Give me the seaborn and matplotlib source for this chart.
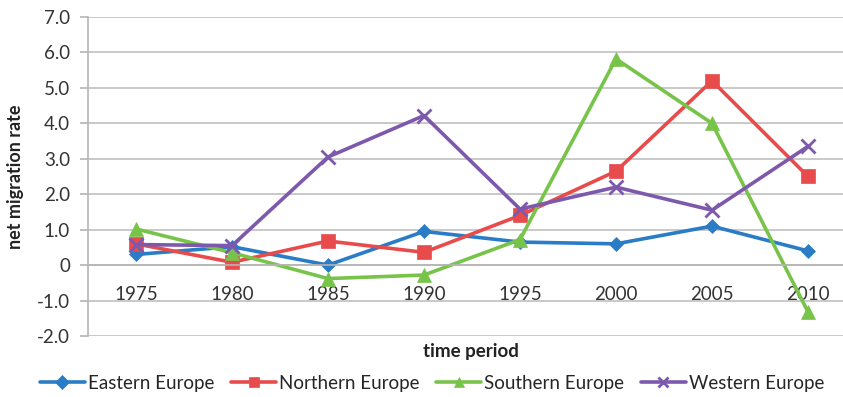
import matplotlib
matplotlib.use("Agg")
import matplotlib.pyplot as plt
import seaborn as sns
import pandas as pd
import numpy as np

periods = ["1975", "1980", "1985", "1990", "1995", "2000", "2005", "2010"]
eastern = [0.30, 0.52, 0.00, 0.95, 0.65, 0.60, 1.10, 0.40]
northern = [0.60, 0.08, 0.68, 0.36, 1.40, 2.65, 5.20, 2.50]
southern = [1.02, 0.35, -0.38, -0.28, 0.72, 5.82, 4.00, -1.32]
western = [0.58, 0.55, 3.05, 4.22, 1.58, 2.20, 1.55, 3.35]
series_names = ["Eastern Europe", "Northern Europe", "Southern Europe", "Western Europe"]
y_ticks = [-2, -1, 0, 1, 2, 3, 4, 5, 6, 7]
y_tick_labels = ["-2.0", "-1.0", "0", "1.0", "2.0", "3.0", "4.0", "5.0", "6.0", "7.0"]

sns.set_theme(style="white")
plt.rcParams['font.family'] = ['Lato', 'DejaVu Sans']

rows = []
for name, vals in zip(series_names, [eastern, northern, southern, western]):
    for i, v in enumerate(vals):
        rows.append({"pos": i, "rate": v, "region": name})
df = pd.DataFrame(rows)

colors = {"Eastern Europe": "#2a7cc7", "Northern Europe": "#e84b4b",
          "Southern Europe": "#78c34a", "Western Europe": "#7d59ad"}
markers = {"Eastern Europe": "D", "Northern Europe": "s",
           "Southern Europe": "^", "Western Europe": "x"}
msizes = {"Eastern Europe": 7, "Northern Europe": 10,
          "Southern Europe": 10, "Western Europe": 10}

fig = plt.figure(figsize=(8.43, 3.97), dpi=100)
ax = fig.add_axes([88/843, 1-336/397, 1-88/843, (336-17)/397])

for name in series_names:
    sub = df[df.region == name]
    sns.lineplot(data=sub, x="pos", y="rate", ax=ax, color=colors[name],
                 marker=markers[name], markersize=msizes[name], linewidth=2.6,
                 markeredgewidth=2 if markers[name] == "x" else 0.5,
                 markeredgecolor=colors[name], label=name, legend=False)

ax.set_xlim(-0.5, -0.5 + (843-88)/96.0)
ax.set_ylim(-2, 7)
ax.set_yticks(y_ticks)
ax.set_yticklabels(y_tick_labels, fontsize=13.5, color="#333333")
ax.yaxis.grid(True, color="#c0c0c0", linewidth=1.2)
ax.set_axisbelow(True)

for s in ["top", "right"]:
    ax.spines[s].set_visible(False)
ax.spines["left"].set_color("#b5b5b5")
ax.spines["left"].set_linewidth(1.2)
ax.spines["bottom"].set_position(("data", 0))
ax.spines["bottom"].set_color("#b5b5b5")
ax.spines["bottom"].set_linewidth(1.2)

ax.set_xticks(range(len(periods)))
ax.set_xticklabels(periods, fontsize=13.5, color="#333333")
ax.set_xticks(np.arange(0.5, 7.0, 1.0), minor=True)
ax.tick_params(axis="x", which="major", length=0, pad=15)
ax.tick_params(axis="x", which="minor", length=6, width=1.2, color="#b5b5b5", direction="out")
ax.tick_params(axis="y", which="major", length=6, width=1.2, color="#b5b5b5", direction="out", left=True, pad=7)

ax.set_xlabel("")
ax.set_ylabel("net migration rate", fontsize=13, fontweight="bold", color="#222222", labelpad=9)
fig.text(471/843, 1-352/397, "time period", fontsize=13.5, fontweight="bold",
         ha="center", va="center", color="#222222")

handles, labels = ax.get_legend_handles_labels()
leg = fig.legend(handles, labels, loc="center", bbox_to_anchor=(432/843, 1-383/397),
                 ncol=4, frameon=False, fontsize=13.5, handlelength=2.4,
                 columnspacing=0.9, handletextpad=0.15)
for h in leg.legend_handles:
    h.set_markersize(7)

fig.savefig("out.png", dpi=100)
